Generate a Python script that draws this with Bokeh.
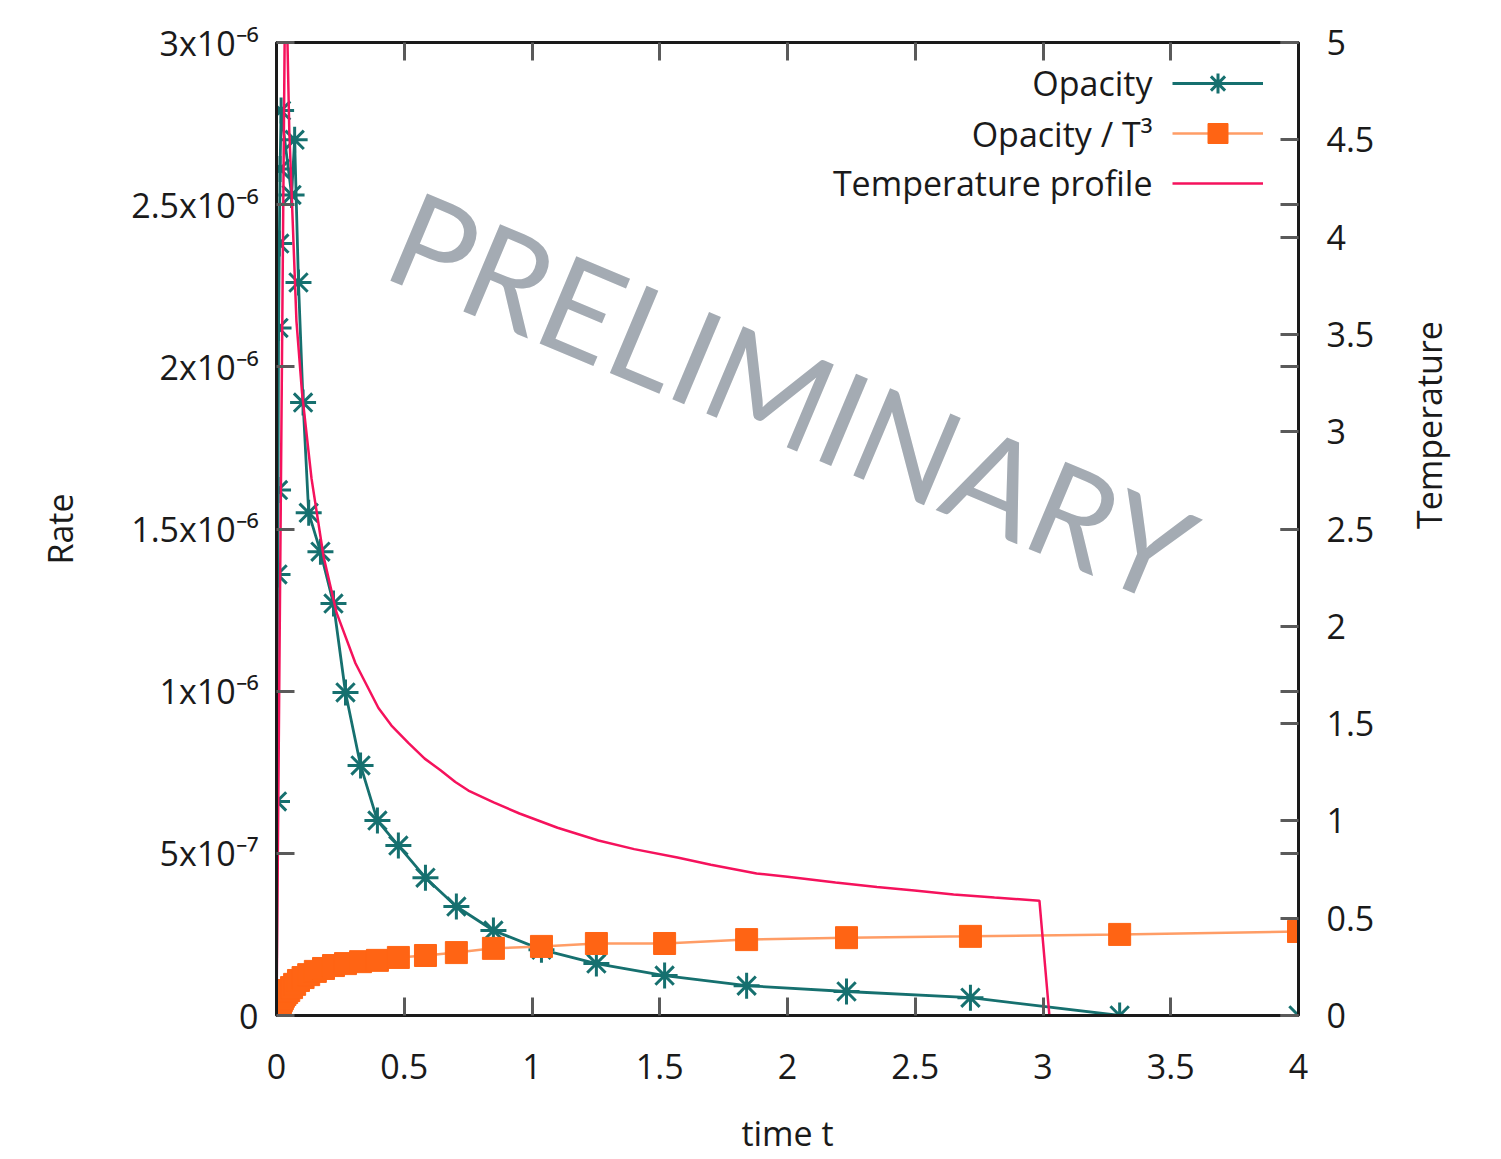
from bokeh.plotting import figure
from bokeh.models import (Range1d, LinearAxis, FixedTicker, Legend, LegendItem, Label,
                          CustomJSTickFormatter)
from bokeh.embed import file_html
from bokeh.resources import INLINE

# ---------------- data ----------------
opacity_t = [0.0, 0.002, 0.004, 0.006, 0.008, 0.011, 0.014, 0.018, 0.059, 0.071, 0.086,
             0.104, 0.126, 0.172, 0.223, 0.270, 0.329, 0.395, 0.477, 0.583, 0.704, 0.849,
             1.037, 1.252, 1.519, 1.840, 2.231, 2.716, 3.300, 4.000]
opacity_rate = [0.0, 6.6e-7, 1.36e-6, 1.62e-6, 2.12e-6, 2.38e-6, 2.61e-6, 2.79e-6, 2.53e-6,
                2.70e-6, 2.26e-6, 1.89e-6, 1.55e-6, 1.43e-6, 1.27e-6, 9.96e-7, 7.71e-7,
                6.01e-7, 5.24e-7, 4.25e-7, 3.36e-7, 2.62e-7, 2.03e-7, 1.60e-7, 1.23e-7,
                9.2e-8, 7.4e-8, 5.5e-8, 0.0, 0.0]

ratio_t = [0.0, 0.002, 0.004, 0.006, 0.008, 0.010, 0.013, 0.016, 0.019, 0.023, 0.027, 0.033,
           0.040, 0.048, 0.059, 0.071, 0.086, 0.104, 0.126, 0.152, 0.184, 0.223, 0.270,
           0.329, 0.395, 0.477, 0.583, 0.704, 0.849, 1.037, 1.252, 1.519, 1.840, 2.231,
           2.716, 3.300, 4.000]
ratio_rate = [0.0, 0.6e-8, 1.2e-8, 1.8e-8, 2.3e-8, 2.8e-8, 3.4e-8, 4.0e-8, 4.6e-8, 5.2e-8,
              5.9e-8, 6.5e-8, 7.1e-8, 7.7e-8, 8.6e-8, 9.6e-8, 1.08e-7, 1.17e-7, 1.26e-7,
              1.36e-7, 1.45e-7, 1.54e-7, 1.60e-7, 1.66e-7, 1.70e-7, 1.79e-7, 1.85e-7,
              1.94e-7, 2.07e-7, 2.13e-7, 2.22e-7, 2.22e-7, 2.34e-7, 2.40e-7, 2.44e-7,
              2.50e-7, 2.59e-7]

temp_t = [0.0, 0.035, 0.050, 0.078, 0.100, 0.137, 0.184, 0.235, 0.309, 0.399, 0.450,
          0.517, 0.580, 0.642, 0.700, 0.751, 0.850, 0.951, 1.100, 1.260, 1.400, 1.569,
          1.700, 1.879, 2.000, 2.188, 2.350, 2.497, 2.650, 2.810, 2.986, 3.025, 4.000]
temp_T = [0.0, 5.5, 4.55, 3.57, 3.20, 2.76, 2.36, 2.07, 1.81, 1.58, 1.49, 1.40, 1.32, 1.26,
          1.20, 1.156, 1.095, 1.038, 0.965, 0.899, 0.855, 0.812, 0.775, 0.730, 0.713,
          0.683, 0.660, 0.642, 0.622, 0.606, 0.590, 0.0, 0.0]

x_ticks = [0, 0.5, 1, 1.5, 2, 2.5, 3, 3.5, 4]
x_tick_labels = ["0", "0.5", "1", "1.5", "2", "2.5", "3", "3.5", "4"]
rate_ticks = [0, 5e-7, 1e-6, 1.5e-6, 2e-6, 2.5e-6, 3e-6]
rate_tick_labels = ["0", "5x10⁻⁷", "1x10⁻⁶", "1.5x10⁻⁶", "2x10⁻⁶", "2.5x10⁻⁶", "3x10⁻⁶"]
temp_ticks = [0, 0.5, 1, 1.5, 2, 2.5, 3, 3.5, 4, 4.5, 5]
temp_tick_labels = ["0", "0.5", "1", "1.5", "2", "2.5", "3", "3.5", "4", "4.5", "5"]

series_labels = ["Opacity", "Opacity / T³", "Temperature profile"]

RATE_MAX = 3e-6
TEMP_MAX = 5.0

TEAL = "#16706f"
ORANGE = "#ff6414"
ORANGE_LINE = "#ff9d66"
PINK = "#f5125c"
TXT = "#1a1a1a"
FONT = "Open Sans"
FS = "34px"


def fmt(tick_values, tick_texts):
    return CustomJSTickFormatter(
        args=dict(tvals=tick_values, ttexts=tick_texts),
        code="""
        for (let i = 0; i < tvals.length; i++) {
            const a = tvals[i];
            if (a === tick || Math.abs(a - tick) <= 1e-9 * (Math.abs(a) + Math.abs(tick))) {
                return ttexts[i];
            }
        }
        return "";
        """)


p = figure(width=1493, height=1159,
           x_range=Range1d(0, 4), y_range=Range1d(0, RATE_MAX),
           output_backend="svg", toolbar_location=None,
           min_border_left=276, min_border_right=195,
           min_border_top=42, min_border_bottom=144,
           x_axis_label="time t", y_axis_label="Rate")
p.extra_y_ranges = {"temp": Range1d(0, TEMP_MAX)}
p.xgrid.visible = False
p.ygrid.visible = False
p.outline_line_color = TXT
p.outline_line_width = 3
p.background_fill_color = "white"
p.border_fill_color = "white"


def style_axis(ax):
    ax.axis_line_color = TXT
    ax.axis_line_width = 3
    ax.major_tick_in = 18
    ax.major_tick_out = 0
    ax.major_tick_line_color = "#5a5a5a"
    ax.major_tick_line_width = 3
    ax.minor_tick_in = 18
    ax.minor_tick_out = 0
    ax.minor_tick_line_color = "#5a5a5a"
    ax.minor_tick_line_width = 3
    ax.major_label_text_font = FONT
    ax.major_label_text_font_size = FS
    ax.major_label_text_color = TXT
    ax.axis_label_text_font = FONT
    ax.axis_label_text_font_size = FS
    ax.axis_label_text_font_style = "normal"
    ax.axis_label_text_color = TXT


xa = p.xaxis[0]
xa.ticker = FixedTicker(ticks=x_ticks)
xa.formatter = fmt(x_ticks, x_tick_labels)
style_axis(xa)
xa.major_label_standoff = 38
xa.axis_label_standoff = 28

ya = p.yaxis[0]
ya.ticker = FixedTicker(ticks=rate_ticks)
ya.formatter = fmt(rate_ticks, rate_tick_labels)
style_axis(ya)
ya.major_label_standoff = 18
ya.axis_label_standoff = 45

# right axis: temperature ticks + mirrored rate ticks (as minor ticks, no labels)
mirror = [v / RATE_MAX * TEMP_MAX for v in rate_ticks]
ra = LinearAxis(y_range_name="temp", axis_label="Temperature",
                ticker=FixedTicker(ticks=temp_ticks, minor_ticks=mirror),
                formatter=fmt(temp_ticks, temp_tick_labels))
style_axis(ra)
ra.major_label_standoff = 28
ra.axis_label_standoff = 52
ra.axis_label_orientation = 1.5707963267948966
p.add_layout(ra, "right")

# top axis: mirrored x ticks only (drawn as label-less minor ticks)
ta = LinearAxis(ticker=FixedTicker(ticks=[], minor_ticks=x_ticks))
style_axis(ta)
p.add_layout(ta, "above")

# ---------------- series ----------------
teal_line = p.line(opacity_t, opacity_rate, line_color=TEAL, line_width=2.8)
teal_pts = p.scatter(opacity_t, opacity_rate, marker="asterisk", size=26,
                     line_color=TEAL, line_width=3)
or_line = p.line(ratio_t, ratio_rate, line_color=ORANGE_LINE, line_width=2.5)
or_pts = p.scatter(ratio_t, ratio_rate, marker="square", size=22,
                   fill_color=ORANGE, line_color=ORANGE, line_width=1)
pink_line = p.line(temp_t, temp_T, y_range_name="temp", line_color=PINK, line_width=2.5)

# ---------------- legend samples (gnuplot style: text left, sample right) ----------------
legend = Legend(items=[LegendItem(label="", renderers=[teal_line, teal_pts]),
                       LegendItem(label="", renderers=[or_line, or_pts]),
                       LegendItem(label="", renderers=[pink_line])],
                location=(896, 807), glyph_width=91, glyph_height=50,
                padding=0, spacing=0, margin=0, label_standoff=0,
                label_width=0, label_height=0, label_text_font_size="1px",
                background_fill_alpha=0, border_line_alpha=0)
p.add_layout(legend)

legend_x = 3.4286
legend_rows = [2.8736e-6, 2.7194e-6, 2.5653e-6]
for txt, yy in zip(series_labels, legend_rows):
    p.add_layout(Label(x=legend_x, y=yy, text=txt, text_align="right",
                       text_baseline="middle", text_font=FONT, text_font_size=FS,
                       text_color=TXT))

# ---------------- watermark ----------------
p.add_layout(Label(x=2.02, y=1.915e-6, text="PRELIMINARY", angle=-0.398,
                   text_align="center", text_baseline="middle",
                   text_font="Lato",
                   text_font_size="132px", text_color="#a4abb3"))

open("out.html", "w").write(file_html(p, INLINE))
